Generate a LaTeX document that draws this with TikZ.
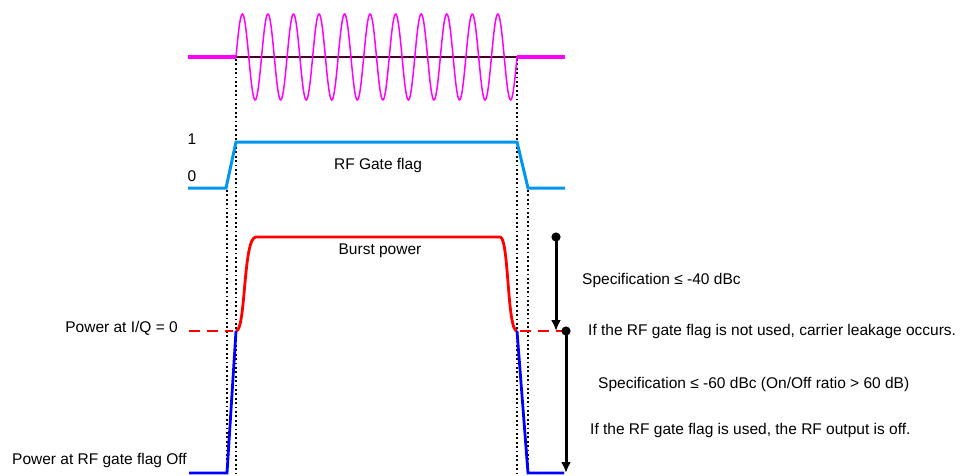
\documentclass[tikz,border=0pt]{standalone}
\usepackage{fontspec}
\setmainfont{Liberation Sans}
\usetikzlibrary{arrows.meta}
\definecolor{carrier}{RGB}{255,0,255}
\definecolor{carrierbase}{RGB}{70,0,40}
\definecolor{gateblue}{RGB}{0,150,240}
\definecolor{burstred}{RGB}{255,0,0}
\definecolor{offblue}{RGB}{0,0,255}
\tikzset{
  lbl/.style={inner sep=0pt},
  guide/.style={line width=1.8pt,dash pattern=on 1.8pt off 2.6pt},
  specarrow/.style={line width=3pt,-{Latex[length=11pt,width=10pt]}}
}
\begin{document}
\begin{tikzpicture}[x=1pt,y=-1pt,font=\fontsize{15.5}{18}\selectfont]
\useasboundingbox (0,0) rectangle (960,475);
\draw[guide] (236,59) -- (236,473);
\draw[guide] (517,59) -- (517,473);
\draw[guide] (227,190) -- (227,473);
\draw[guide] (528,190) -- (528,473);
\begin{scope}
\draw[carrier,line width=3.2pt] (188,57) -- (236,57);
\draw[carrier,line width=3.2pt] (517,57) -- (565,57);
\draw[carrierbase,line width=2.6pt] (236,57) -- (517,57);
\draw[carrier,line width=1.5pt] plot[domain=0:281,samples=400,smooth]
      ({236+\x},{57-43*sin(14.093*\x)});
\end{scope}
\begin{scope}
\draw[gateblue,line width=3pt] (188,188) -- (226,188) -- (236,142) -- (517,142)
      -- (528,188) -- (565,188);
\node[lbl] (one) at (192,139) {1};
\node[lbl] (zero) at (192,176) {0};
\node[lbl] (gate) at (378,165) {RF Gate flag};
\end{scope}
\begin{scope}
\draw[burstred,line width=2.8pt] (236,331) .. controls (246,331) and (243,237) .. (256,237)
      -- (500,237) .. controls (509,237) and (507,331) .. (517,331);
\draw[burstred,line width=2.8pt,dash pattern=on 11pt off 7pt] (189,331) -- (233,331);
\draw[burstred,line width=2.8pt,dash pattern=on 11pt off 7pt] (520,331) -- (563,331);
\draw[offblue,line width=2.8pt] (189,473) -- (227,473) -- (236,331);
\draw[offblue,line width=2.8pt] (517,331) -- (528,473) -- (564,473);
\node[lbl] (burst) at (380,251) {Burst power};
\node[lbl,anchor=east] (iqzero) at (178,328) {Power at I/Q = 0};
\node[lbl,anchor=west] (gateoff) at (12,460) {Power at RF gate flag Off};
\end{scope}
\begin{scope}
\coordinate (leaktop) at (556,237);
\coordinate (leakbot) at (556,331);
\coordinate (offtop) at (566,331);
\coordinate (offbot) at (566,473);
\fill (leaktop) circle[radius=4.6pt];
\draw[specarrow] (leaktop) -- (leakbot);
\fill (offtop) circle[radius=4.6pt];
\draw[specarrow] (offtop) -- (offbot);
\node[lbl,anchor=west] (spec40) at (582,280) {Specification ≤ -40 dBc};
\node[lbl,anchor=west] (leak) at (588,331) {If the RF gate flag is not used, carrier leakage occurs.};
\node[lbl,anchor=west] (spec60) at (598,384) {Specification ≤ -60 dBc (On/Off ratio > 60 dB)};
\node[lbl,anchor=west] (used) at (590,430) {If the RF gate flag is used, the RF output is off.};
\end{scope}
\end{tikzpicture}
\end{document}
